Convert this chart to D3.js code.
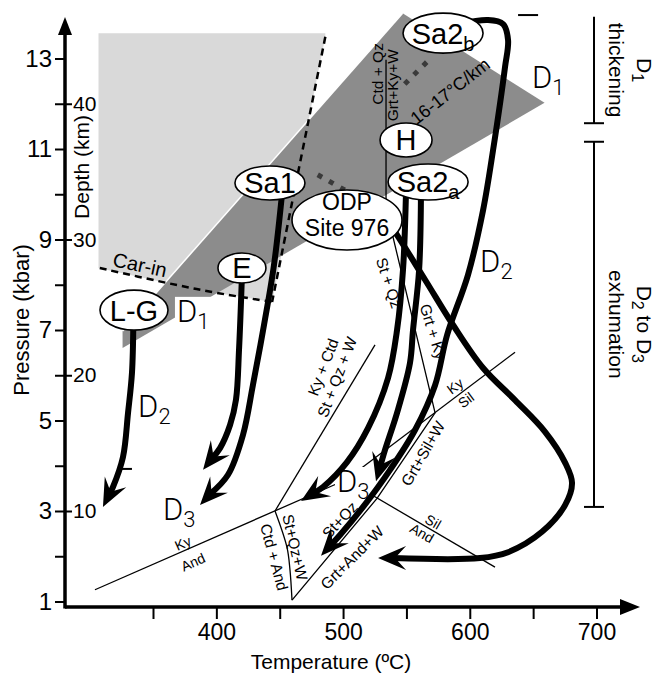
<!DOCTYPE html>
<html>
<head>
<meta charset="utf-8">
<script src="https://cdn.jsdelivr.net/npm/d3@7"></script>
<style>
    body { margin: 0; background: #fff; }
    svg { display: block; font-family: "Liberation Sans", Arial, Helvetica, sans-serif; }
</style>
</head>
<body>
<svg id="chart" width="662" height="673"></svg>
<script>
// ---- axes ----
const tempTicks = [350, 400, 450, 500, 550, 600, 650, 700];
const tempLabels = [400, 500, 600, 700];
const presTicks = d3.range(1, 14);
const presLabels = [1, 3, 5, 7, 9, 11, 13];
const depthTicks = [10, 20, 30, 40];
const kbarPerKm = 0.3;

// ---- fields, [T (C), P (kbar)] ----
const lightField = [[307, 13.56], [486, 13.56], [486, 13.48], [444, 7.62], [400.5, 7.82], [361, 8.04], [307, 8.37]];
const darkField = [[326, 6.60], [326, 6.98], [547, 14.0], [659, 12.02]];
const carIn = [[308, 8.37], [361, 8.04], [400.5, 7.82], [444, 7.62]];
const ctdLimit = [[486, 13.48], [444, 7.62]];
const dottedA = [[480, 10.43], [501.5, 10.09]];
const dottedB = [[566, 12.92], [547, 12.39]];

// ---- reaction lines ----
const kyAnd = [[304.2, 1.26], [502.3, 3.69]];
const kySil = [[502.3, 3.69], [635.7, 6.51]];
const silAnd = [[502.3, 3.69], [619.9, 1.76]];
const kyCtd = [[446.3, 3.0], [525.2, 6.67]];
const ctdAnd = [[446.3, 3.0], [455.7, 2.2], [458.1, 1.7], [459.7, 1.03]];
const grtLine = [[459.7, 1.03], [526.8, 3.28], [572.6, 5.17], [533.9, 9.7], [533.9, 12.97]];

// ---- P-T paths ----
const pathLG = [[334.5, 7.2], [333.4, 6.05], [330.3, 5.17], [326.3, 4.19], [318.4, 3.53], [310.5, 3.09]];
const pathE = [[420.2, 8.2], [417.9, 6.57], [415.5, 5.46], [410.8, 4.90], [402.9, 4.39], [389.5, 3.91]];
const pathSa1 = [[451.8, 10.0], [445.5, 8.44], [437.6, 7.11], [428.9, 5.79], [421.0, 4.68], [409.2, 3.80], [387.1, 3.13]];
const pathSa2aW = [[549.7, 10.09], [547.3, 8.33], [542.6, 7.0], [535.5, 5.94], [519.7, 4.83], [503.1, 4.08], [484.2, 3.53], [466.8, 3.22]];
const pathSa2aE = [[561.5, 10.09], [560.0, 8.33], [555.2, 7.0], [552.8, 6.27], [542.6, 5.17], [533.1, 4.35], [526.0, 3.66]];
const pathSa2b = [[592.3, 13.76], [614.4, 13.85], [626.3, 13.76], [630.2, 13.41], [627.8, 12.81], [618.4, 10.98], [610.5, 9.65],
    [598.6, 8.22], [582.1, 6.89], [572.6, 5.78], [556.8, 4.79], [537.1, 3.91], [515.8, 3.09], [497.6, 2.47], [482.6, 2.01]];
const pathODP = [[535.5, 9.39], [541.0, 9.17], [564.7, 8.11], [586.8, 7.11], [610.5, 6.16], [635.7, 5.45], [659.4, 4.75],
    [675.2, 4.07], [680.7, 3.62], [675.2, 3.13], [657.0, 2.54], [630.2, 2.09], [608.1, 1.96], [527.6, 1.96]];
const shortMarks = [[[638.1, 13.96], [653.9, 13.96]], [[324.0, 3.93], [333.4, 3.93]]];

// ---- localities ----
const sites = [
    {id: "LG", lines: ["L-G"], T: 335.0, P: 7.44},
    {id: "E", lines: ["E"], T: 420.2, P: 8.37},
    {id: "Sa1", lines: ["Sa1"], T: 442.3, P: 10.25},
    {id: "ODP", lines: ["ODP", "Site 976"], T: 503.1, P: 9.43},
    {id: "H", lines: ["H"], T: 549.7, P: 11.20},
    {id: "Sa2a", lines: ["Sa2"], sub: "a", T: 567.1, P: 10.27},
    {id: "Sa2b", lines: ["Sa2"], sub: "b", T: 578.9, P: 13.56}
];

// ---- text on the diagram: [text, T, P, angle] ----
const rxnLabels = [
    ["Ky", 373.7, 2.29, -24], ["And", 381.6, 1.87, -24],
    ["Ky", 588.4, 5.76, -37], ["Sil", 597.1, 5.45, -37],
    ["Sil", 571.0, 2.76, 30], ["And", 562.3, 2.51, 30],
    ["Ky + Ctd", 484.2, 6.18, -69], ["St + Qz + W", 495.2, 5.96, -69],
    ["St+Qz+W", 462.1, 2.20, 77], ["Ctd + And", 445.5, 1.98, 75],
    ["St+Qz", 497.5, 2.80, -47], ["Grt+And+W", 507.1, 1.97, -45],
    ["Grt+Sil+W", 563.1, 4.27, -60], ["Grt + Ky", 571.0, 6.96, 73],
    ["St + Qz", 536.3, 8.04, 72],
    ["Ctd + Qz", 527.6, 12.66, -90], ["Grt+Ky+W", 539.4, 12.41, -90]
];
const stageLabels = [
    ["1", 368.9, 7.18, true], ["1", 649.1, 12.35, false],
    ["2", 338.2, 5.08, false], ["2", 608.1, 8.28, false],
    ["3", 357.9, 2.80, false], ["3", 495.2, 3.42, true]
];
const phases = [
    {lines: [["D", "1"], ["thickening"]], top: 13.92, bottom: 11.57, capTop: false},
    {lines: [["D", "2", " to D", "3"], ["exhumation"]], top: 11.16, bottom: 3.09, capTop: true}
];

// ---- layout ----
const svg = d3.select("#chart");
const x = d3.scaleLinear().domain([350, 700]).range([153, 596.5]);
const y = d3.scaleLinear().domain([1, 13]).range([601.5, 58.5]);
const x0 = 65, y0 = 607;
const ellipseSize = {LG: [34, 20], E: [24, 15], Sa1: [35, 17], ODP: [55, 30], H: [26, 17], Sa2a: [40, 18], Sa2b: [40, 20]};

const line = d3.line().x(d => x(d[0])).y(d => y(d[1]));
const smooth = d3.line().x(d => x(d[0])).y(d => y(d[1])).curve(d3.curveCatmullRom.alpha(0.5));

const gFields = svg.append("g");
gFields.append("path").attr("d", line(lightField) + "Z").attr("fill", "#d9d9d9");
gFields.append("path").attr("d", line(darkField) + "Z").attr("fill", "#8c8c8c");
gFields.append("path").attr("d", line(darkField.slice(1, 3))).attr("stroke", "#fff").attr("stroke-width", 1.5);

const gDash = svg.append("g").attr("fill", "none").attr("stroke", "#000");
gDash.append("path").attr("d", smooth(carIn)).attr("stroke-width", 2.5).attr("stroke-dasharray", "7,5");
gDash.append("path").attr("d", line(ctdLimit)).attr("stroke-width", 2.5).attr("stroke-dasharray", "7,5");
[dottedA, dottedB].forEach(d => {
    gDash.append("path").attr("d", line(d)).attr("stroke", "#3a3a3a")
        .attr("stroke-width", 5).attr("stroke-dasharray", "5,8");
});

const gRxn = svg.append("g").attr("fill", "none").attr("stroke", "#000").attr("stroke-width", 1.3);
[kyAnd, kySil, silAnd, kyCtd].forEach(d => gRxn.append("path").attr("d", line(d)));
gRxn.append("path").attr("d", smooth(ctdAnd));
gRxn.append("path").attr("d", line(grtLine));

const gTxt = svg.append("g").attr("text-anchor", "middle");
rxnLabels.forEach(([t, T, P, a]) => {
    gTxt.append("text")
        .attr("transform", `translate(${x(T)},${y(P)}) rotate(${a})`)
        .attr("dy", "0.35em")
        .attr("font-size", t.length <= 3 ? 14 : 15.5)
        .text(t);
});
gTxt.append("text")
    .attr("transform", `translate(${x(584.4)},${y(12.28)}) rotate(-38)`)
    .attr("dy", "0.35em").attr("font-size", 18).text("16-17°C/km");
gTxt.append("text")
    .attr("transform", `translate(${x(339.7)},${y(8.44)}) rotate(12)`)
    .attr("dy", "0.35em").attr("font-size", 20).text("Car-in");

// stage labels (some sit on a white patch)
const gStage = svg.append("g");
function stageLabel(g, sub, T, P, boxed) {
    const t = g.append("text").attr("x", x(T)).attr("y", y(P))
        .attr("font-family", "Roboto, 'Liberation Sans', Arial, sans-serif")
        .attr("font-size", 31).attr("font-weight", 300);
    t.append("tspan").text("D");
    t.append("tspan").attr("font-size", 22).attr("dy", 7).text(sub);
    if (boxed) {
        const b = t.node().getBBox();
        g.insert("rect", "text").attr("x", b.x - 2).attr("y", b.y + 4)
            .attr("width", b.width + 4).attr("height", b.height - 6).attr("fill", "#fff");
    }
}

// thick paths with swept arrowheads
const gPaths = svg.append("g");
function arrowPath(pts, L = 28, W = 12, N = 17) {
    const n = pts.length;
    const x1 = x(pts[n - 2][0]), y1 = y(pts[n - 2][1]);
    const x2 = x(pts[n - 1][0]), y2 = y(pts[n - 1][1]);
    const a = Math.atan2(y2 - y1, x2 - x1), c = Math.cos(a), s = Math.sin(a);
    const at = (bx, by) => [x2 + bx * c - by * s, y2 + bx * s + by * c];
    const body = pts.slice(0, n - 1).map(d => [x(d[0]), y(d[1])]);
    body.push(at(-N + 2, 0));
    gPaths.append("path")
        .attr("d", d3.line().curve(d3.curveCatmullRom.alpha(0.5))(body))
        .attr("fill", "none").attr("stroke", "#000").attr("stroke-width", 6);
    const head = [at(0, 0), at(-L, -W), at(-N, 0), at(-L, W)];
    gPaths.append("path").attr("d", "M" + head.join("L") + "Z").attr("fill", "#000");
}

stageLabels.filter(d => d[3]).forEach(d => stageLabel(gStage, ...d));
[pathLG, pathE, pathSa1, pathSa2aW, pathSa2aE, pathSa2b, pathODP].forEach(p => arrowPath(p));
shortMarks.forEach(m => {
    gPaths.append("path").attr("d", line(m)).attr("stroke", "#000").attr("stroke-width", 2);
});
const gStage2 = svg.append("g");
stageLabels.filter(d => !d[3]).forEach(d => stageLabel(gStage2, ...d));

// locality ellipses
const gSites = svg.append("g");
sites.forEach(s => {
    const [rx, ry] = ellipseSize[s.id];
    const g = gSites.append("g").attr("transform", `translate(${x(s.T)},${y(s.P)})`);
    g.append("ellipse").attr("rx", rx).attr("ry", ry)
        .attr("fill", "#fff").attr("stroke", "#000").attr("stroke-width", 1.6);
    if (s.lines.length === 2) {
        g.append("text").attr("text-anchor", "middle").attr("font-size", 23).attr("y", -10).text(s.lines[0]);
        g.append("text").attr("text-anchor", "middle").attr("font-size", 23).attr("y", 16).text(s.lines[1]);
    } else {
        const t = g.append("text").attr("text-anchor", "middle").attr("font-size", 29).attr("dy", "0.36em");
        t.append("tspan").text(s.lines[0]);
        if (s.sub) t.append("tspan").attr("font-size", 20).attr("dy", 7).text(s.sub);
    }
});

// axes
const gAxes = svg.append("g");
const xAxis = d3.axisBottom(x).tickValues(tempTicks).tickSize(12).tickPadding(5)
    .tickFormat(d => tempLabels.includes(d) ? d : "");
const gx = gAxes.append("g").attr("transform", `translate(0,${y0})`).call(xAxis);
const yAxis = d3.axisLeft(y).tickValues(presTicks).tickSize(10).tickPadding(3)
    .tickFormat(d => presLabels.includes(d) ? d : "");
const gy = gAxes.append("g").attr("transform", `translate(${x0},0)`).call(yAxis);
const depth = d3.scaleLinear().domain([0, 40]).range([y(0), y(40 * kbarPerKm)]);
const gd = gAxes.append("g").attr("transform", `translate(${x0},0)`)
    .call(d3.axisRight(depth).tickValues(depthTicks).tickSize(7).tickPadding(1));
[gx, gy, gd].forEach(g => {
    g.select(".domain").remove();
    g.selectAll(".tick line").attr("stroke-width", 2);
    g.selectAll("text").attr("fill", "#000").attr("font-family", null);
});
gx.selectAll("text").attr("font-size", 23);
gy.selectAll("text").attr("font-size", 24);
gd.selectAll("text").attr("font-size", 21);

gAxes.append("path").attr("d", `M${x0},${y0}H622`).attr("stroke", "#000").attr("stroke-width", 3.5);
gAxes.append("path").attr("d", `M${x0},${y0 + 1.5}V32`).attr("stroke", "#000").attr("stroke-width", 3.5);
gAxes.append("path").attr("d", `M640,${y0}L620,${y0 - 8}L620,${y0 + 8}Z`).attr("fill", "#000");
gAxes.append("path").attr("d", `M${x0},17L${x0 - 7},35L${x0 + 7},35Z`).attr("fill", "#000");

gAxes.append("text").attr("transform", "translate(29,320) rotate(-90)")
    .attr("text-anchor", "middle").attr("font-size", 22).text("Pressure (kbar)");
gAxes.append("text").attr("transform", "translate(89,167) rotate(-90)")
    .attr("text-anchor", "middle").attr("font-size", 21).text("Depth (km)");
gAxes.append("text").attr("x", 331).attr("y", 669)
    .attr("text-anchor", "middle").attr("font-size", 21).text("Temperature (ºC)");

// deformation stage brackets
const gPh = svg.append("g").attr("stroke", "#000").attr("stroke-width", 2);
phases.forEach(ph => {
    const bx = 594, t = y(ph.top), b = y(ph.bottom);
    gPh.append("line").attr("x1", bx).attr("x2", bx).attr("y1", t).attr("y2", b);
    gPh.append("line").attr("x1", bx - 10).attr("x2", bx + 10).attr("y1", b).attr("y2", b);
    if (ph.capTop) gPh.append("line").attr("x1", bx - 10).attr("x2", bx + 10).attr("y1", t).attr("y2", t);
    const cy = (t + b) / 2;
    ph.lines.forEach((parts, i) => {
        const tx = svg.append("text").attr("transform", `translate(${i === 0 ? 644 : 616},${cy}) rotate(90)`)
            .attr("text-anchor", "middle").attr("dy", "0.35em").attr("font-size", 21);
        parts.forEach((p, j) => {
            const isSub = /^[0-9]$/.test(p);
            const ts = tx.append("tspan").text(p);
            if (isSub) ts.attr("font-size", 16).attr("dy", 5);
            else if (j > 0) ts.attr("dy", -5);
        });
    });
});
</script>
</body>
</html>
